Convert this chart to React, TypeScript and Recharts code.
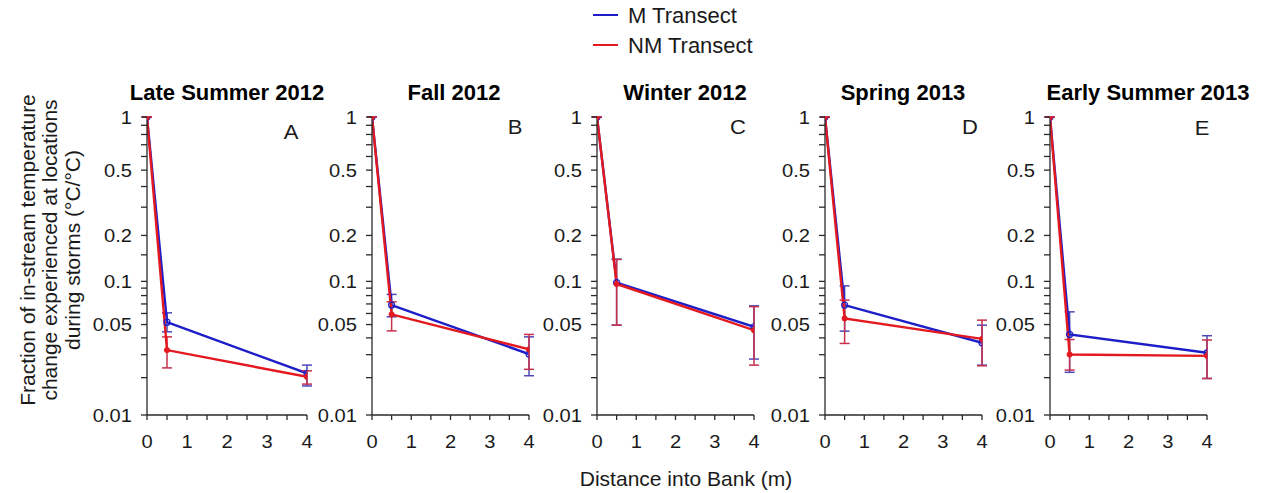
import React from "react";
import { LineChart, Line, XAxis, YAxis, ErrorBar } from "recharts";

// distance into bank (m) for each sampling location
const distances = [0, 0.5, 4];

const seasons = [
  "Late Summer 2012",
  "Fall 2012",
  "Winter 2012",
  "Spring 2013",
  "Early Summer 2013",
];
const panelLetters = ["A", "B", "C", "D", "E"];

// M transect: mean fraction and error bar ends, one row per season
const mTransect = [
  [1, 0.052, 0.0216],
  [1, 0.0687, 0.0303],
  [1, 0.098, 0.0482],
  [1, 0.0687, 0.0368],
  [1, 0.0424, 0.031],
];
const mLow = [
  [1, 0.0443, 0.0172],
  [1, 0.0568, 0.0207],
  [1, 0.0495, 0.0278],
  [1, 0.0448, 0.025],
  [1, 0.022, 0.0197],
];
const mHigh = [
  [1, 0.0606, 0.025],
  [1, 0.0815, 0.0407],
  [1, 0.1406, 0.0679],
  [1, 0.0932, 0.0495],
  [1, 0.0616, 0.0415],
];

// NM transect
const nmTransect = [
  [1, 0.0325, 0.0203],
  [1, 0.0591, 0.0329],
  [1, 0.096, 0.0455],
  [1, 0.0553, 0.0393],
  [1, 0.0301, 0.0294],
];
const nmLow = [
  [1, 0.0238, 0.0178],
  [1, 0.045, 0.0232],
  [1, 0.0495, 0.025],
  [1, 0.0364, 0.0247],
  [1, 0.0229, 0.0197],
];
const nmHigh = [
  [1, 0.0407, 0.0226],
  [1, 0.0724, 0.0424],
  [1, 0.14, 0.067],
  [1, 0.0744, 0.0538],
  [1, 0.0389, 0.0386],
];

const majorTicks = [1, 0.5, 0.2, 0.1, 0.05, 0.01];
const minorTicks = [0.9, 0.8, 0.7, 0.6, 0.4, 0.3, 0.15, 0.09, 0.08, 0.07, 0.06, 0.04, 0.03, 0.02];
const xTicks = [0, 0.5, 1, 1.5, 2, 2.5, 3, 3.5, 4];

// the original y axis is not a true log axis, it follows v^0.09 closely
const EXP = 0.09;
const tf = (v: number) => Math.pow(v, EXP);
const yTicks = [...majorTicks, ...minorTicks].map(tf);

const FONT = "'Liberation Sans', Arial, sans-serif";
const BLUE = "#1e1ec8";
const RED = "#e3191f";
const BLUE_BAR = "#4a48bc";
const RED_BAR = "#c8304a";
const AXIS = "#2a2a2a";
const TEXT = "#1a1a1a";

// layout of the five panels (plot left edge, plot width)
const axisLeft = [147, 372, 597, 825, 1050];
const plotW = [160, 157, 157, 157, 157];
const titleX = [227, 454, 685, 903, 1148];
const letterXY = [
  [291, 132],
  [515, 127],
  [738, 127],
  [970, 127],
  [1202, 128],
];
const PLOT_TOP = 117;
const PLOT_H = 298;
const Y_AXIS_W = 60;
const CHART_TOP = 100;

function buildRows(i: number) {
  return distances.map((d, j) => {
    const m = tf(mTransect[i][j]);
    const nm = tf(nmTransect[i][j]);
    return {
      x: d,
      m,
      nm,
      mErr: [m - tf(mLow[i][j]), tf(mHigh[i][j]) - m],
      nmErr: [nm - tf(nmLow[i][j]), tf(nmHigh[i][j]) - nm],
    };
  });
}

function majorLabel(v: number) {
  const hit = majorTicks.find((t) => Math.abs(tf(t) - v) < 1e-9);
  return hit === undefined ? "" : String(hit);
}

function YTick(props: any) {
  const { x, y, payload } = props;
  const label = majorLabel(payload.value);
  if (!label) return <g />;
  return (
    <text
      x={0}
      y={0}
      transform={`translate(${x},${y}) scale(1.06,1)`}
      dy="0.36em"
      textAnchor="end"
      fontSize={19}
      fontFamily={FONT}
      fill={TEXT}
    >
      {label}
    </text>
  );
}

function XTick(props: any) {
  const { x, y, payload } = props;
  if (!Number.isInteger(payload.value)) return <g />;
  return (
    <text
      x={0}
      y={0}
      transform={`translate(${x},${y}) scale(1.06,1)`}
      dy={26}
      textAnchor="middle"
      fontSize={19}
      fontFamily={FONT}
      fill={TEXT}
    >
      {payload.value}
    </text>
  );
}

function Panel({ i }: { i: number }) {
  const rows = buildRows(i);
  const right = 15;
  return (
    <div
      style={{
        position: "absolute",
        left: axisLeft[i] - Y_AXIS_W,
        top: CHART_TOP,
      }}
    >
      <LineChart
        width={Y_AXIS_W + plotW[i] + right}
        height={PLOT_TOP - CHART_TOP + PLOT_H + 40}
        data={rows}
        margin={{ top: PLOT_TOP - CHART_TOP, right, bottom: 0, left: 0 }}
      >
        <XAxis
          dataKey="x"
          type="number"
          domain={[0, 4]}
          ticks={xTicks}
          interval={0}
          allowDataOverflow
          height={40}
          tickSize={5}
          tick={(p: any) => <XTick {...p} />}
          axisLine={{ stroke: AXIS, strokeWidth: 1.3 }}
          tickLine={{ stroke: AXIS, strokeWidth: 1.3 }}
        />
        <YAxis
          type="number"
          domain={[tf(0.01), 1]}
          ticks={yTicks}
          interval={0}
          allowDataOverflow
          width={Y_AXIS_W}
          tickSize={6}
          tickMargin={9}
          tick={(p: any) => <YTick {...p} />}
          axisLine={{ stroke: AXIS, strokeWidth: 1.3 }}
          tickLine={{ stroke: AXIS, strokeWidth: 1.3 }}
        />
        <Line
          dataKey="m"
          type="linear"
          stroke={BLUE}
          strokeWidth={2.4}
          dot={{ r: 3, stroke: BLUE, strokeWidth: 1.2, fill: "none" }}
          isAnimationActive={false}
        >
          <ErrorBar dataKey="mErr" direction="y" width={5} stroke={BLUE_BAR} strokeWidth={1.5} />
        </Line>
        <Line
          dataKey="nm"
          type="linear"
          stroke={RED}
          strokeWidth={2.4}
          dot={{ r: 2.6, stroke: RED, strokeWidth: 1, fill: RED }}
          isAnimationActive={false}
        >
          <ErrorBar dataKey="nmErr" direction="y" width={5} stroke={RED_BAR} strokeWidth={1.5} />
        </Line>
      </LineChart>
    </div>
  );
}

export default function App() {
  return (
    <div
      style={{
        position: "absolute",
        left: 0,
        top: 0,
        width: 1266,
        height: 493,
        background: "#fff",
        overflow: "hidden",
        fontFamily: FONT,
      }}
    >
      <svg width={1266} height={493} style={{ position: "absolute", left: 0, top: 0 }}>
        {/* legend */}
        <line x1={593} x2={618} y1={15} y2={15} stroke={BLUE} strokeWidth={2} />
        <text x={628} y={15} dominantBaseline="central" fontSize={22} fill={TEXT} fontFamily={FONT}>
          M Transect
        </text>
        <line x1={593} x2={618} y1={45} y2={45} stroke={RED} strokeWidth={2} />
        <text x={628} y={45} dominantBaseline="central" fontSize={22} fill={TEXT} fontFamily={FONT}>
          NM Transect
        </text>

        {seasons.map((s, i) => (
          <text
            key={s}
            x={titleX[i]}
            y={92}
            textAnchor="middle"
            dominantBaseline="central"
            fontSize={22}
            fontWeight="bold"
            fill="#000"
            fontFamily={FONT}
          >
            {s}
          </text>
        ))}
        {panelLetters.map((l, i) => (
          <text
            key={l}
            x={0}
            y={0}
            transform={`translate(${letterXY[i][0]},${letterXY[i][1]}) scale(1.1,1)`}
            textAnchor="middle"
            dominantBaseline="central"
            fontSize={20}
            fill={TEXT}
            fontFamily={FONT}
          >
            {l}
          </text>
        ))}

        {/* y axis title, three rotated lines */}
        {[
          "Fraction of in-stream temperature",
          "change experienced at locations",
          "during storms (°C/°C)",
        ].map((t, k) => (
          <text
            key={t}
            x={0}
            y={0}
            transform={`translate(${27 + k * 22.5},250) rotate(-90)`}
            textAnchor="middle"
            dominantBaseline="central"
            fontSize={21}
            fill={TEXT}
            fontFamily={FONT}
          >
            {t}
          </text>
        ))}

        <text
          x={686}
          y={478}
          textAnchor="middle"
          dominantBaseline="central"
          fontSize={21}
          fill={TEXT}
          fontFamily={FONT}
        >
          Distance into Bank (m)
        </text>
      </svg>
      {seasons.map((s, i) => (
        <Panel key={s} i={i} />
      ))}
    </div>
  );
}
